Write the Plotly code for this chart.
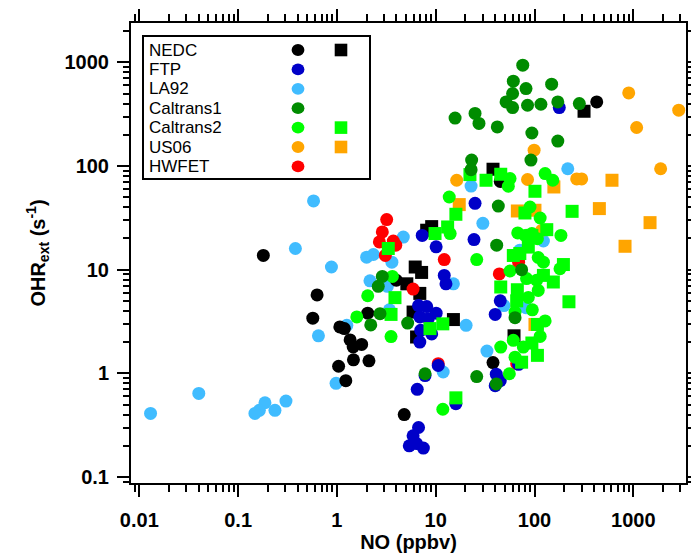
import plotly.graph_objects as go

# ---------------- data (NO in ppbv, OHR_ext in s^-1) ----------------
nedc_c_x = [0.18, 0.63, 0.57, 1.07, 1.19, 2.05, 1.36, 1.46, 1.78, 1.47, 2.11, 1.04, 1.23, 4.8, 4.0, 426, 45, 38]
nedc_c_y = [13.7, 5.7, 3.4, 2.8, 2.7, 3.8, 2.1, 1.8, 1.9, 1.35, 1.32, 1.17, 0.85, 0.40, 7.9, 415, 71, 1.27]
nedc_s_x = [8.1, 9.1, 6.2, 7.2, 5.1, 6.9, 5.9, 6.4, 15.1, 62, 317, 38]
nedc_s_y = [24, 26, 10.6, 9.4, 7.3, 5.9, 3.9, 2.24, 3.3, 2.3, 337, 93]

ftp_x = [7.3, 10.1, 6.7, 8.1, 10.1, 6.9, 8.4, 7.05, 9.1, 6.9, 6.5, 7.8, 10.6, 6.7, 5.9, 5.4, 6.4, 7.5,
         25, 24.4, 12.2, 12.7, 45, 40, 41, 45, 40, 16, 178, 69]
ftp_y = [21.4, 16.6, 4.5, 4.4, 3.8, 3.5, 3.36, 2.6, 2.4, 2.0, 0.70, 0.95, 1.19, 0.30, 0.25, 0.20, 0.21, 0.19,
         43.6, 19.5, 8.8, 7.3, 5.0, 3.7, 0.98, 0.85, 0.76, 0.51, 366, 1.22]

la92_x = [0.58, 0.38, 0.88, 4.7, 2.0, 2.34, 3.6, 2.16, 3.24, 3.4, 1.26, 0.65, 0.98, 0.040, 0.013, 0.187, 0.164,
          0.148, 0.236, 0.305, 11.9, 30, 15.1, 49, 20.3, 33, 123, 82, 71, 217, 22.8]
la92_y = [46, 16, 10.6, 20.6, 13.2, 14.0, 11.8, 7.8, 6.9, 4.1, 2.9, 2.3, 0.80, 0.64, 0.41, 0.52, 0.44,
          0.41, 0.44, 0.54, 1.03, 28, 7.3, 4.5, 2.9, 1.64, 18.9, 4.3, 15.4, 94, 64]

cal1_x = [76, 61, 82, 149, 60, 51.5, 60, 85, 116, 172, 284, 15.7, 25, 27.4, 42, 94, 172, 92, 23.1, 22.8, 43,
          41.4, 74, 2.88, 2.62, 2.73, 2.2, 5.2, 7.8, 26, 41, 63.5]
cal1_y = [938, 658, 558, 615, 500, 415, 366, 385, 394, 415, 400, 290, 321, 257, 238, 208, 174, 114, 114, 92, 41,
          17.2, 10, 8.6, 6.9, 3.76, 2.93, 3.05, 0.99, 0.93, 0.79, 3.44]

cal2_c_x = [3.64, 2.05, 1.59, 3.53, 11.8, 56.5, 54.3, 128, 153, 13.7, 90, 114, 14.0, 185, 67.6, 80, 94, 26, 109,
            181, 56.5, 83, 105, 95, 63.5, 128, 114, 61, 45.5, 77, 63.5, 55.6, 107, 123, 109, 86.5]
cal2_c_y = [8.6, 5.6, 3.5, 2.26, 0.45, 75.5, 63.7, 84.5, 72.8, 50.2, 40.2, 31.5, 22.3, 21.4, 22.6, 21.4, 22.3,
            12.5, 13.1, 10.2, 9.7, 8.2, 7.9, 4.1, 3.9, 3.2, 2.27, 2.08, 1.79, 1.79, 1.43, 0.99, 19.9, 11.8, 6.3, 5.4]
cal2_s_x = [3.31, 3.87, 3.53, 8.75, 11.8, 16.0, 22.2, 32.3, 45.5, 101, 16.0, 80, 240, 13.2, 9.84, 133, 94, 61,
            86.5, 196, 123, 155, 45.5, 67, 66, 223, 107, 94, 107, 74, 71]
cal2_s_y = [16.0, 5.37, 3.7, 2.7, 3.0, 0.58, 82.6, 72.8, 83.2, 57, 34.2, 35.2, 36.5, 25.8, 22.3, 24.3, 21.4, 13.7,
            16.5, 11.2, 8.8, 7.6, 6.8, 6.4, 5.0, 4.9, 2.96, 1.96, 1.49, 1.28, 14.3]

us06_c_x = [898, 2880, 1080, 1890, 99, 16.3, 85, 267, 300, 118]
us06_c_y = [507, 345, 235, 94, 142, 72.8, 74, 75, 75, 23.9]
us06_s_x = [157, 608, 453, 1476, 824, 17.3, 67, 101, 101]
us06_s_y = [62.7, 72.8, 38.8, 28.4, 16.8, 42.4, 36.8, 37.4, 2.96]

hwfet_x = [3.19, 2.88, 2.69, 3.72, 3.94, 3.09, 5.9, 12.2, 44, 10.6, 66, 69]
hwfet_y = [30.4, 23.1, 18.5, 18.9, 17.2, 13.7, 6.5, 12.5, 9.1, 1.24, 1.24, 11.8]

legend_names = ["NEDC", "FTP", "LA92", "Caltrans1", "Caltrans2", "US06", "HWFET"]
legend_colors = ["#000000", "#0000C8", "#40BCFF", "#008C00", "#00FF00", "#FFA500", "#FF0000"]
legend_has_square = [True, False, False, False, True, True, False]

x_tickvals = [0.01, 0.1, 1, 10, 100, 1000]
x_ticktext = ["0.01", "0.1", "1", "10", "100", "1000"]
y_tickvals = [0.1, 1, 10, 100, 1000]
y_ticktext = ["0.1", "1", "10", "100", "1000"]

C = dict(zip(legend_names, legend_colors))

# ---------------- figure ----------------
W, H = 691, 554
ML, MR, MT, MB = 131, 5, 23, 71
PW, PH = W - ML - MR, H - MT - MB

fig = go.Figure()

def add(xs, ys, color, symbol):
    fig.add_trace(go.Scatter(x=xs, y=ys, mode="markers", showlegend=False, hoverinfo="skip",
                             marker=dict(color=color, symbol=symbol, size=13, line=dict(width=0))))

add(la92_x, la92_y, C["LA92"], "circle")
add(nedc_c_x, nedc_c_y, C["NEDC"], "circle")
add(nedc_s_x, nedc_s_y, C["NEDC"], "square")
add(hwfet_x, hwfet_y, C["HWFET"], "circle")
add(us06_c_x, us06_c_y, C["US06"], "circle")
add(us06_s_x, us06_s_y, C["US06"], "square")
add(ftp_x, ftp_y, C["FTP"], "circle")
add(cal2_s_x, cal2_s_y, C["Caltrans2"], "square")
add(cal2_c_x, cal2_c_y, C["Caltrans2"], "circle")
add(cal1_x, cal1_y, C["Caltrans1"], "circle")

# minor tick positions
def minors(lo, hi):
    out = []
    for e in range(lo, hi + 1):
        for m in range(2, 10):
            out.append(m * 10.0 ** e)
    return out

FONT = "Liberation Sans, Arial, sans-serif"
axis_common = dict(
    type="log", showgrid=False, zeroline=False, showline=True, linecolor="black", linewidth=2,
    mirror="ticks", ticks="outside", ticklen=12, tickwidth=1.5, tickcolor="black",
    tickfont=dict(family=FONT, size=20, color="black", weight="bold"),
)

fig.update_xaxes(
    **axis_common, range=[-2.084, 3.533], tickmode="array", tickvals=x_tickvals, ticktext=x_ticktext,
    ticklabelstandoff=6,
    minor=dict(ticks="outside", ticklen=7, tickwidth=1.5, tickcolor="black", showgrid=False,
               tickmode="array", tickvals=minors(-3, 3)),
    title=dict(text="NO (ppbv)", font=dict(family=FONT, size=20, color="black", weight="bold"), standoff=4),
)
fig.update_yaxes(
    **axis_common, range=[-1.058, 3.379], tickmode="array", tickvals=y_tickvals, ticktext=y_ticktext,
    ticklabelstandoff=4,
    minor=dict(ticks="outside", ticklen=6, tickwidth=1.5, tickcolor="black", showgrid=False,
               tickmode="array", tickvals=minors(-2, 3)),
    title=dict(text="OHR<sub>ext</sub> (s<sup>-1</sup>)",
               font=dict(family=FONT, size=20, color="black", weight="bold"), standoff=14),
)

# ---------------- manual legend ----------------
def px(xp):
    return (xp - ML) / PW

def py(yp):
    return (H - MB - yp) / PH

shapes = [dict(type="rect", xref="paper", yref="paper", x0=px(143), x1=px(370), y0=py(179), y1=py(36),
               line=dict(color="black", width=2), fillcolor="white", layer="above")]
annotations = []
row_y0, row_dy = 50, 19.4
r = 6.4
for i, (name, col, sq) in enumerate(zip(legend_names, legend_colors, legend_has_square)):
    yc = row_y0 + i * row_dy
    annotations.append(dict(xref="paper", yref="paper", x=px(147), y=py(yc), text=name, showarrow=False,
                            xanchor="left", yanchor="middle",
                            font=dict(family=FONT, size=17, color="black")))
    shapes.append(dict(type="circle", xref="paper", yref="paper", x0=px(298 - r), x1=px(298 + r),
                       y0=py(yc + r - 0.5), y1=py(yc - r + 0.5), fillcolor=col, line=dict(width=0),
                       layer="above"))
    if sq:
        shapes.append(dict(type="rect", xref="paper", yref="paper", x0=px(341 - 6.3), x1=px(341 + 6.3),
                           y0=py(yc + 6.3), y1=py(yc - 6.3), fillcolor=col, line=dict(width=0),
                           layer="above"))

fig.update_layout(
    width=W, height=H, margin=dict(l=ML, r=MR, t=MT, b=MB, autoexpand=False),
    paper_bgcolor="white", plot_bgcolor="white", showlegend=False,
    shapes=shapes, annotations=annotations,
)

fig.write_html("out.html")
